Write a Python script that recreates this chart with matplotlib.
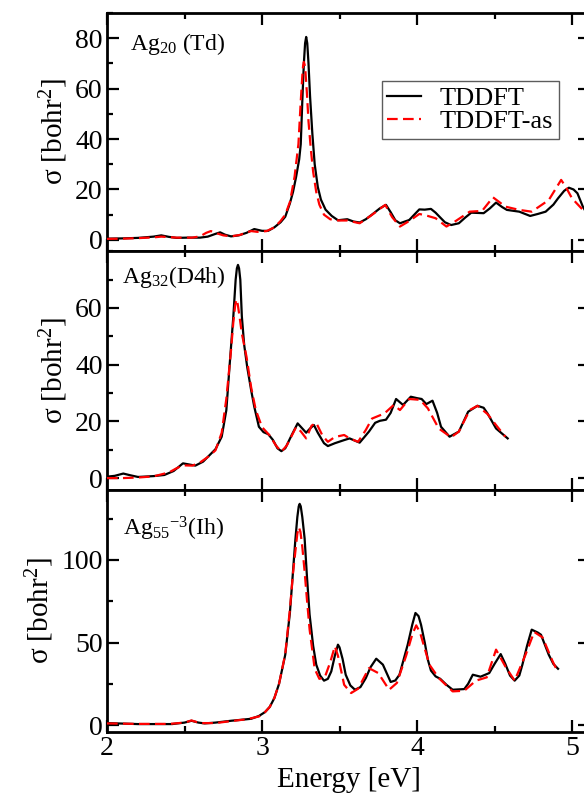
import matplotlib
matplotlib.use("Agg")
import matplotlib.pyplot as plt
from matplotlib.ticker import MultipleLocator, FixedLocator

plt.rcParams['font.family'] = ['Liberation Serif', 'DejaVu Serif']
plt.rcParams['mathtext.fontset'] = 'custom'
plt.rcParams['mathtext.rm'] = 'Liberation Serif'
plt.rcParams['mathtext.it'] = 'Liberation Serif:italic'
plt.rcParams['mathtext.bf'] = 'Liberation Serif:bold'

# ---------------- data ----------------
# Panel 1: Ag20 (Td)
e20_tddft = [2.00, 2.10, 2.20, 2.30, 2.35, 2.40, 2.45, 2.52, 2.60, 2.65, 2.70, 2.73, 2.76, 2.80, 2.85,
             2.90, 2.95, 3.00, 3.04, 3.08, 3.12, 3.15, 3.18, 3.20, 3.22, 3.24, 3.25, 3.26, 3.27, 3.278,
             3.285, 3.292, 3.30, 3.31, 3.325, 3.34, 3.36, 3.38, 3.41, 3.45, 3.49, 3.52, 3.55, 3.59, 3.63,
             3.67, 3.715, 3.76, 3.80, 3.83, 3.86, 3.89, 3.95, 3.99, 4.015, 4.05, 4.09, 4.12, 4.145, 4.18,
             4.22, 4.27, 4.31, 4.35, 4.43, 4.47, 4.51, 4.55, 4.58, 4.66, 4.73, 4.78, 4.83, 4.88, 4.91,
             4.95, 4.98, 5.01, 5.035, 5.07, 5.10]
s20_tddft = [0.5, 0.6, 0.8, 1.3, 1.8, 1.2, 0.8, 0.9, 0.9, 1.3, 2.4, 3.0, 2.1, 1.4, 1.8,
             2.8, 4.3, 3.6, 3.6, 5.0, 7.0, 9.2, 14.5, 19, 25, 32, 38, 55, 70, 78,
             80.5, 78, 70, 57, 42, 30, 21, 16, 12, 9.5, 7.8, 8.0, 8.2, 7.3, 6.9,
             8.2, 10.3, 12.5, 13.9, 11, 7.8, 6.6, 7.9, 10.5, 12.1, 12.0, 12.3, 10.8, 9.2, 7.0,
             5.9, 6.6, 8.8, 10.8, 10.6, 12.5, 14.8, 13.0, 11.9, 11.2, 9.5, 10.3, 11.2, 14, 16.5,
             19.5, 20.7, 20.0, 18.5, 13.2, 10.0]
e20_as = [2.00, 2.10, 2.20, 2.30, 2.35, 2.45, 2.55, 2.60, 2.64, 2.67, 2.71, 2.75, 2.80, 2.86, 2.90,
          2.93, 2.97, 3.03, 3.08, 3.12, 3.15, 3.18, 3.21, 3.235, 3.25, 3.26, 3.265, 3.27, 3.275, 3.28,
          3.29, 3.30, 3.315, 3.33, 3.35, 3.37, 3.40, 3.44, 3.47, 3.50, 3.55, 3.63, 3.70, 3.795, 3.84,
          3.89, 3.95, 4.015, 4.07, 4.12, 4.19, 4.25, 4.34, 4.42, 4.49, 4.57, 4.66, 4.74, 4.85, 4.93,
          4.96, 5.00, 5.07, 5.10]
s20_as = [0.4, 0.5, 0.7, 1.0, 1.3, 0.9, 0.9, 1.4, 2.8, 3.5, 2.6, 1.8, 1.4, 2.0, 3.0,
          3.5, 3.2, 3.5, 5.0, 7.5, 10, 15, 25, 38, 55, 65, 69, 70.6, 69.5, 67,
          58, 47, 36, 27, 19, 14, 10, 8.2, 7.8, 7.7, 7.7, 6.6, 9.5, 13.9, 9,
          5.3, 7.5, 10.3, 9.5, 8.6, 5.3, 7.5, 11.2, 11.5, 16.9, 13.2, 11.9, 11.2, 15.8, 23.8,
          21, 16.5, 11.9, 10.0]

# Panel 2: Ag32 (D4h)
e32_tddft = [2.00, 2.05, 2.105, 2.15, 2.20, 2.30, 2.37, 2.43, 2.49, 2.53, 2.57, 2.62, 2.66, 2.70, 2.74,
             2.77, 2.79, 2.815, 2.83, 2.838, 2.845, 2.852, 2.86, 2.87, 2.885, 2.905, 2.93, 2.95, 2.98, 3.01,
             3.04, 3.07, 3.10, 3.125, 3.15, 3.19, 3.23, 3.26, 3.285, 3.31, 3.335, 3.36, 3.40, 3.425, 3.47,
             3.53, 3.565, 3.63, 3.69, 3.73, 3.76, 3.80, 3.83, 3.865, 3.91, 3.96, 4.00, 4.03, 4.06, 4.10,
             4.13, 4.155, 4.21, 4.27, 4.33, 4.39, 4.43, 4.455, 4.51, 4.585]
s32_tddft = [0.5, 0.8, 1.6, 1.0, 0.4, 0.7, 1.1, 2.5, 5.2, 4.8, 4.4, 5.8, 8.0, 10.2, 14.6,
             24, 39, 57, 70, 74, 75.2, 74, 70, 57, 47, 39, 31, 25.2, 18.1, 16.2,
             15.5, 13.5, 10.5, 9.5, 10.5, 15, 19.3, 17.5, 16.0, 17.5, 18.7, 16, 12.3, 11.3, 12.3,
             13.4, 14, 12.5, 16.4, 19.5, 20.2, 20.6, 23, 27.9, 25.8, 28.7, 28.2, 27.9, 26.1, 27.3,
             23, 18.1, 14.6, 16.4, 23.4, 25.5, 24.8, 22.8, 17.5, 14]
e32_as = [2.00, 2.10, 2.20, 2.30, 2.40, 2.45, 2.49, 2.55, 2.60, 2.66, 2.70, 2.74, 2.77, 2.80, 2.815,
          2.827, 2.835, 2.843, 2.855, 2.87, 2.90, 2.93, 2.96, 3.00, 3.05, 3.09, 3.125, 3.16, 3.22, 3.25,
          3.285, 3.32, 3.35, 3.39, 3.425, 3.47, 3.53, 3.565, 3.62, 3.67, 3.71, 3.79, 3.85, 3.89, 3.95,
          4.02, 4.07, 4.14, 4.22, 4.27, 4.34, 4.39, 4.455, 4.51, 4.57]
s32_as = [0.0, 0.0, 0.2, 0.6, 2.0, 3.5, 4.5, 4.4, 5.5, 7.8, 9.8, 16, 28, 45, 55,
          61, 63, 61.5, 57, 51, 42.8, 32, 24, 18, 15, 11.5, 9.3, 11.5, 18, 16.5,
          14, 18.5, 19.5, 15, 12.8, 14.5, 15.2, 14, 12.8, 17, 21, 22.8, 25.8, 24, 27.9,
          27.6, 24.6, 17.5, 14.4, 16.4, 24, 25.5, 22.6, 18.7, 14.6]

# Panel 3: Ag55^-3 (Ih)
e55_tddft = [2.00, 2.10, 2.20, 2.30, 2.42, 2.50, 2.545, 2.59, 2.63, 2.70, 2.80, 2.845, 2.93, 2.98, 3.02,
             3.05, 3.08, 3.11, 3.15, 3.18, 3.20, 3.215, 3.228, 3.237, 3.243, 3.25, 3.26, 3.275, 3.29, 3.307,
             3.33, 3.35, 3.375, 3.40, 3.425, 3.447, 3.47, 3.49, 3.50, 3.52, 3.54, 3.57, 3.60, 3.635, 3.67,
             3.70, 3.737, 3.78, 3.83, 3.86, 3.887, 3.94, 3.97, 3.99, 4.01, 4.026, 4.05, 4.07, 4.09, 4.12,
             4.15, 4.19, 4.23, 4.305, 4.33, 4.36, 4.41, 4.466, 4.50, 4.54, 4.57, 4.60, 4.63, 4.66, 4.68,
             4.71, 4.74, 4.78, 4.80, 4.85, 4.88, 4.91]
s55_tddft = [1.2, 0.9, 0.6, 0.6, 0.6, 1.5, 2.6, 1.5, 1.0, 1.5, 2.6, 3.0, 3.8, 5.5, 7.9,
             11, 16.4, 25, 42.6, 68, 93, 112, 126, 132.5, 134, 132.5, 126, 113, 90, 67,
             48, 36.6, 30, 26.9, 28, 32.5, 42, 48.7, 47.1, 40, 30.5, 24, 21.4, 23, 28.5,
             35, 40.2, 36.6, 26.1, 27, 30.5, 48.7, 61, 67.9, 66, 60.8, 50, 39.6, 33, 29.5,
             28, 24.4, 21.4, 21.8, 25, 30.5, 29.3, 31.5, 37, 43, 37, 30, 26.9, 30, 36.6,
             48, 57.8, 56, 54.7, 42.6, 37, 34.1]
e55_as = [2.00, 2.20, 2.40, 2.50, 2.545, 2.60, 2.70, 2.80, 2.90, 2.98, 3.02, 3.05, 3.08, 3.11, 3.15,
          3.18, 3.20, 3.215, 3.228, 3.238, 3.248, 3.26, 3.275, 3.29, 3.307, 3.34, 3.37, 3.405, 3.44, 3.47,
          3.49, 3.53, 3.575, 3.62, 3.69, 3.75, 3.82, 3.87, 3.93, 3.97, 3.995, 4.02, 4.08, 4.14, 4.23,
          4.305, 4.38, 4.45, 4.51, 4.57, 4.63, 4.70, 4.756, 4.81, 4.875, 4.905]
s55_as = [1.0, 0.7, 0.7, 1.5, 2.8, 1.2, 1.2, 2.4, 3.5, 5.2, 7.9, 11, 16.5, 25, 43,
          70, 92, 105, 116, 119.8, 117, 108, 93, 76, 58, 34, 28, 28.9, 38, 47.7,
          42, 24.4, 19.4, 22, 34.5, 31.5, 21.4, 25.5, 42, 55, 60.4, 56, 36.6, 28.5, 20.4,
          20.8, 26.9, 28.9, 45.7, 35.5, 26.9, 42.6, 56.4, 53.1, 38.6, 32.9]

panel_labels = [r'Ag$_{20}$ (Td)', r'Ag$_{32}$(D4h)', r'Ag$_{55}{}^{-3}$(Ih)']
series_names = ['TDDFT', 'TDDFT-as']
x_ticks = [2, 3, 4, 5]
y_ticks = [[0, 20, 40, 60, 80], [0, 20, 40, 60], [0, 50, 100]]

# ---------------- figure ----------------
W, H = 584, 795
fig = plt.figure(figsize=(W / 100, H / 100), dpi=100)

left = 107 / W
width = (590 - 107) / W
panels_px = [(13, 251), (251, 490), (490, 732)]
axes = []
for (t, b) in panels_px:
    ax = fig.add_axes([left, 1 - b / H, width, (b - t) / H])
    axes.append(ax)

data = [
    (e20_tddft, s20_tddft, e20_as, s20_as, (-4.4, 90), 10),
    (e32_tddft, s32_tddft, e32_as, s32_as, (-4.2, 80.1), 10),
    (e55_tddft, s55_tddft, e55_as, s55_as, (-4.2, 142.4), 25),
]
label_pos = [(0.048, 0.845), (0.031, 0.866), (0.033, 0.814)]

for i, (ax, (xa, ya, xb, yb, ylim, mnr)) in enumerate(zip(axes, data)):
    l1, = ax.plot(xa, ya, color='black', lw=1.6, solid_joinstyle='round', zorder=3)
    l2, = ax.plot(xb, yb, color='#ff0000', lw=1.6, linestyle=(0, (4.8, 2.4)), zorder=4)
    ax.set_xlim(2, 2 + (590 - 107) / 155.0)
    ax.set_ylim(*ylim)
    ax.xaxis.set_major_locator(FixedLocator(x_ticks))
    ax.xaxis.set_minor_locator(MultipleLocator(0.5))
    ax.yaxis.set_major_locator(FixedLocator(y_ticks[i]))
    ax.yaxis.set_minor_locator(MultipleLocator(mnr))
    ax.tick_params(which='both', direction='in', top=True, right=True, width=1.6)
    ax.tick_params(which='major', length=8.5, labelsize=20, pad=3)
    ax.tick_params(which='minor', length=4.5)
    for sp in ax.spines.values():
        sp.set_linewidth(2.0)
    ax.set_ylabel(r'σ [bohr$^{2}$]', fontsize=21, labelpad=4)
    ax.text(label_pos[i][0], label_pos[i][1], panel_labels[i], transform=ax.transAxes,
            fontsize=17, va='baseline', ha='left')
    if i < 2:
        ax.tick_params(labelbottom=False)
    else:
        ax.set_xlabel('Energy [eV]', fontsize=21, labelpad=4)
    if i == 0:
        leg = ax.legend([l1, l2], series_names, loc='upper left', bbox_to_anchor=(0.569, 0.714),
                        borderaxespad=0, frameon=True, fancybox=False, fontsize=19,
                        handlelength=1.3, handletextpad=0.7, labelspacing=0.0, borderpad=0.2)
        leg.get_frame().set_edgecolor('#333333')
        leg.get_frame().set_linewidth(1.0)

fig.savefig('out.png', dpi=100)
